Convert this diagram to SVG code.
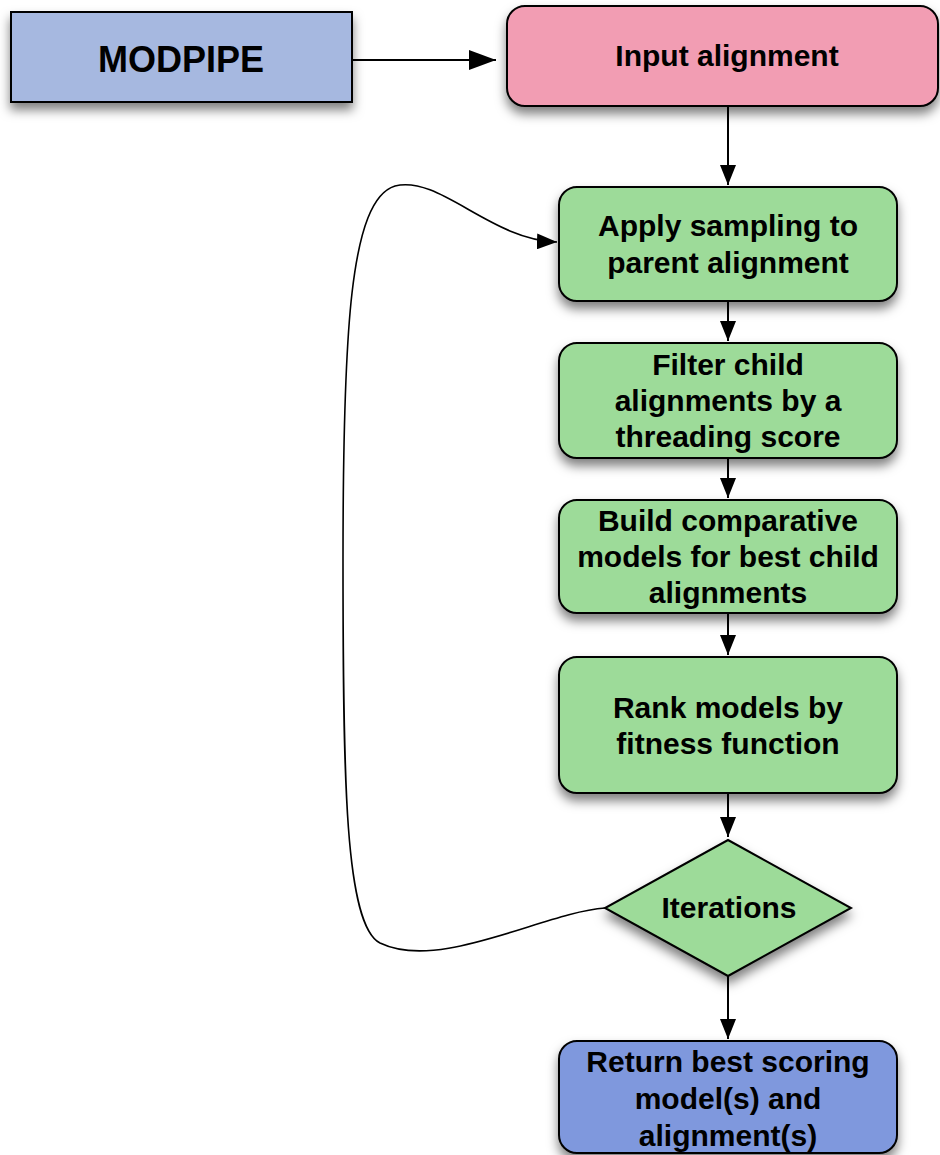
<svg xmlns="http://www.w3.org/2000/svg" width="940" height="1155" viewBox="0 0 940 1155">
  <defs>
    <filter id="shadow" x="-10%" y="-10%" width="125%" height="150%">
      <feDropShadow dx="0" dy="7" stdDeviation="5.5" flood-color="#000" flood-opacity="0.5"/>
    </filter>
    <marker id="arrow" markerUnits="userSpaceOnUse" markerWidth="22" markerHeight="16" refX="20" refY="8" orient="auto">
      <path d="M0,0 L20,8 L0,16 z" fill="#000"/>
    </marker>
    <marker id="arrow-lg" markerUnits="userSpaceOnUse" markerWidth="28" markerHeight="20" refX="27" refY="10" orient="auto">
      <path d="M0,0 L27,10 L0,20 z" fill="#000"/>
    </marker>
    <style>
      .box { stroke: #000; stroke-width: 2; filter: url(#shadow); }
      .green { fill: #9ddb99; }
      .label { font-family: "Liberation Sans", Arial, sans-serif; font-weight: bold; font-size: 30px; fill: #000; text-anchor: middle; }
      .edge { fill: none; stroke: #000; stroke-width: 2; marker-end: url(#arrow); }
      .loop { fill: none; stroke: #000; stroke-width: 1.6; marker-end: url(#arrow); }
    </style>
  </defs>

  <rect width="940" height="1155" fill="#fff"/>

  <g id="connectors">
    <path class="edge" d="M352,60 H496" style="marker-end:url(#arrow-lg)"/>
    <path class="edge" d="M728,106 V185"/>
    <path class="edge" d="M728,301 V341"/>
    <path class="edge" d="M728,458 V498"/>
    <path class="edge" d="M728,613 V655"/>
    <path class="edge" d="M728,793 V837"/>
    <path class="edge" d="M728,976 V1039"/>
    <path class="loop" d="M605,908 C545,912 440,972 380,943 C345,925 343,780 343,560 C343,330 350,200 395,186 C440,175 490,240 557,242"/>
  </g>

  <g id="modpipe">
    <rect class="box" x="11" y="12" width="341" height="90" fill="#a6b8e0"/>
    <text class="label" x="181" y="72" style="font-size:36px">MODPIPE</text>
  </g>

  <g id="input-alignment">
    <rect class="box" x="507" y="6" width="431" height="100" rx="18" fill="#f29db3"/>
    <text class="label" x="727" y="66">Input alignment</text>
  </g>

  <g id="apply-sampling">
    <rect class="box green" x="559" y="187" width="338" height="114" rx="18"/>
    <text class="label" x="728" y="236">Apply sampling to</text>
    <text class="label" x="728" y="273">parent alignment</text>
  </g>

  <g id="filter-child">
    <rect class="box green" x="559" y="343" width="338" height="115" rx="18"/>
    <text class="label" x="728" y="375">Filter child</text>
    <text class="label" x="728" y="411">alignments by a</text>
    <text class="label" x="728" y="447">threading score</text>
  </g>

  <g id="build-models">
    <rect class="box green" x="559" y="500" width="338" height="113" rx="18"/>
    <text class="label" x="728" y="531">Build comparative</text>
    <text class="label" x="728" y="567">models for best child</text>
    <text class="label" x="728" y="603">alignments</text>
  </g>

  <g id="rank-models">
    <rect class="box green" x="559" y="657" width="338" height="136" rx="18"/>
    <text class="label" x="728" y="718">Rank models by</text>
    <text class="label" x="728" y="754">fitness function</text>
  </g>

  <g id="iterations">
    <polygon class="box green" points="728,840 851,908 728,976 605,908"/>
    <text class="label" x="729" y="918">Iterations</text>
  </g>

  <g id="return-best">
    <rect class="box" x="559" y="1041" width="338" height="112" rx="18" fill="#7f98dd"/>
    <text class="label" x="728" y="1072">Return best scoring</text>
    <text class="label" x="728" y="1109">model(s) and</text>
    <text class="label" x="728" y="1146">alignment(s)</text>
  </g>
</svg>
